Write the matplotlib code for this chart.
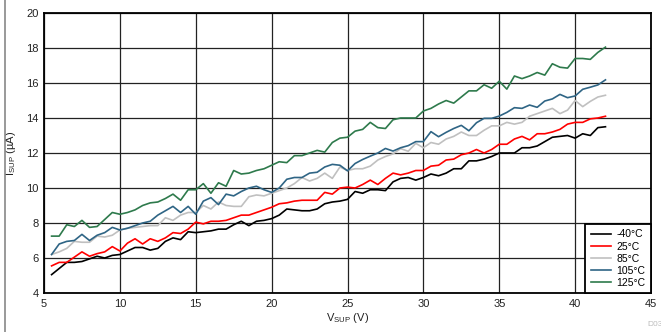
import numpy as np
import matplotlib
matplotlib.use("Agg")
import matplotlib.pyplot as plt
from matplotlib.lines import Line2D

plt.rcParams['font.family'] = ['Liberation Sans', 'DejaVu Sans']
plt.rcParams['mathtext.fontset'] = 'custom'
plt.rcParams['mathtext.rm'] = 'Liberation Sans'

vsup = np.arange(5.5, 42.01, 0.5)

i_m40 = [5.05, 5.4, 5.75, 5.75, 5.8, 5.95, 6.1, 6.0, 6.15, 6.2, 6.4, 6.6, 6.6, 6.45, 6.55, 6.95,
         7.15, 7.05, 7.5, 7.45, 7.5, 7.55, 7.65, 7.65, 7.9, 8.1, 7.85, 8.1, 8.15, 8.25, 8.45, 8.8,
         8.75, 8.7, 8.7, 8.8, 9.1, 9.2,
         9.25, 9.35, 9.8, 9.7, 9.9, 9.9, 9.85, 10.35, 10.55, 10.6, 10.45, 10.6, 10.8, 10.7, 10.85,
         11.1, 11.1, 11.55, 11.55, 11.65, 11.8, 12.0, 12.0, 12.0, 12.3, 12.3, 12.4, 12.65, 12.9,
         12.95, 13.0, 12.85, 13.1, 13.0, 13.45, 13.5]

i_25 = [5.55, 5.75, 5.75, 6.05, 6.35, 6.1, 6.25, 6.35, 6.65, 6.4, 6.85, 7.1, 6.8, 7.1, 6.95, 7.15,
        7.45, 7.4, 7.65, 8.05, 7.95, 8.1, 8.1, 8.15, 8.3, 8.45, 8.45, 8.6, 8.75, 8.9, 9.1, 9.15,
        9.25, 9.3, 9.3, 9.3, 9.75, 9.65,
        10.0, 10.05, 10.0, 10.2, 10.45, 10.2, 10.55, 10.85, 10.75, 10.85, 11.0, 11.0, 11.25, 11.3,
        11.6, 11.65, 11.9, 12.0, 12.2, 12.0, 12.2, 12.5, 12.5, 12.8, 12.95, 12.75, 13.1, 13.1,
        13.2, 13.35, 13.65, 13.75, 13.75, 13.95, 14.0, 14.1]

i_85 = [6.2, 6.35, 6.55, 6.95, 6.9, 6.9, 7.25, 7.2, 7.3, 7.6, 7.7, 7.75, 7.8, 7.85, 7.85, 8.3,
        8.15, 8.45, 8.6, 8.6, 9.0, 8.8, 9.2, 9.0, 8.95, 8.95, 9.5, 9.6, 9.55, 9.7, 9.85, 10.0,
        10.25, 10.6, 10.4, 10.55, 10.85, 10.55,
        11.2, 11.0, 11.1, 11.1, 11.25, 11.6, 11.8, 11.95, 12.25, 12.1, 12.55, 12.3, 12.6, 12.5,
        12.8, 12.95, 13.2, 13.0, 13.0, 13.3, 13.55, 13.55, 13.75, 13.65, 13.75, 14.1, 14.25,
        14.4, 14.55, 14.25, 14.45, 15.0, 14.65, 14.95, 15.2, 15.3]

i_105 = [6.2, 6.8, 6.95, 7.0, 7.35, 7.0, 7.3, 7.45, 7.75, 7.6, 7.7, 7.85, 8.0, 8.1, 8.45, 8.7,
         8.95, 8.6, 8.95, 8.5, 9.25, 9.45, 9.05, 9.65, 9.55, 9.8, 10.0, 10.1, 9.9, 9.75, 10.0,
         10.5, 10.6, 10.6, 10.85, 10.9, 11.2, 11.35,
         11.3, 10.98, 11.4, 11.63, 11.82, 12.0, 12.26, 12.11, 12.3, 12.42, 12.65, 12.65, 13.22,
         12.93, 13.18, 13.4, 13.58, 13.27, 13.73, 13.98, 13.98, 14.11, 14.32, 14.59, 14.55,
         14.74, 14.61, 14.97, 15.09, 15.35, 15.16, 15.26, 15.64, 15.76, 15.89, 16.18]

i_125 = [7.25, 7.25, 7.9, 7.8, 8.15, 7.75, 7.8, 8.2, 8.6, 8.5, 8.6, 8.75, 9.0, 9.15, 9.2, 9.4,
         9.65, 9.3, 9.9, 9.9, 10.25, 9.7, 10.3, 10.1, 11.0, 10.8, 10.85, 11.0, 11.1, 11.3, 11.5,
         11.45, 11.85, 11.85, 12.0, 12.15, 12.05, 12.6,
         12.85, 12.9, 13.25, 13.35, 13.75, 13.45, 13.4, 13.9, 14.0, 14.0, 14.0, 14.4, 14.55,
         14.8, 15.0, 14.85, 15.2, 15.55, 15.55, 15.9, 15.7, 16.1, 15.65, 16.4, 16.25, 16.4,
         16.6, 16.45, 17.1, 16.9, 16.85, 17.4, 17.4, 17.35, 17.75, 18.05]

labels = ['-40°C', '25°C', '85°C', '105°C', '125°C']
series = [i_m40, i_25, i_85, i_105, i_125]
colors = ['#000000', '#ff0000', '#c0c0c0', '#2f6585', '#2e7a4c']

x_ticks = [5, 10, 15, 20, 25, 30, 35, 40, 45]
y_ticks = [4, 6, 8, 10, 12, 14, 16, 18, 20]

fig = plt.figure(figsize=(6.61, 3.32), dpi=100)
ax = fig.add_axes([44/661, 39/332, 607/661, 280/332])

for ys, c, lab in zip(series, colors, labels):
    ax.plot(vsup, ys, color=c, lw=1.2, label=lab, zorder=3)

ax.set_xlim(5, 45)
ax.set_ylim(4, 20)
ax.set_xticks(x_ticks)
ax.set_yticks(y_ticks)
ax.grid(True, color='#222222', lw=0.9, zorder=0)
ax.set_axisbelow(True)
for s in ax.spines.values():
    s.set_linewidth(1.3)
    s.set_color('black')
ax.tick_params(axis='both', length=0, labelsize=8, pad=4, colors='#222222')

ax.set_xlabel(r'V$_{\rm SUP}$ (V)', fontsize=8, labelpad=2, color='#222222')
ax.set_ylabel(r'I$_{\rm SUP}$ (µA)', fontsize=8, labelpad=6, color='#222222')

leg = ax.legend(loc='lower right', borderaxespad=0, fontsize=7.5, handlelength=2.0,
                handletextpad=0.5, labelspacing=0.2, fancybox=False, framealpha=1,
                edgecolor='black', borderpad=0.5)
leg.get_frame().set_linewidth(1.3)

fig.text(647/661, 8/332, 'D03', fontsize=6, color='#bbbbbb', ha='left', va='center')
fig.add_artist(Line2D([5/661, 5/661], [0, 1], color='#888888', lw=1.2))

fig.savefig('out.png', dpi=100)
